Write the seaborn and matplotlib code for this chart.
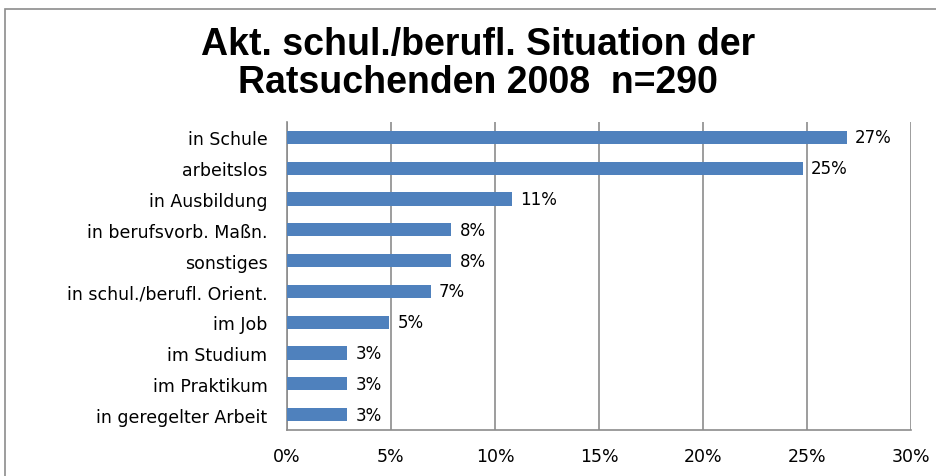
import seaborn as sns
import pandas as pd
from matplotlib import pyplot as plt
from matplotlib.patches import Rectangle
from matplotlib.ticker import FuncFormatter

# data (n=290)
categories = ["in Schule", "arbeitslos", "in Ausbildung", "in berufsvorb. Maßn.",
              "sonstiges", "in schul./berufl. Orient.", "im Job", "im Studium",
              "im Praktikum", "in geregelter Arbeit"]
shares = [26.9, 24.8, 10.8, 7.9, 7.9, 6.9, 4.9, 2.9, 2.9, 2.9]
value_labels = ["27%", "25%", "11%", "8%", "8%", "7%", "5%", "3%", "3%", "3%"]

df = pd.DataFrame({"situation": categories, "share": shares})

sns.set_style("white")
plt.rcParams["font.family"] = ["DejaVu Sans"]
plt.rcParams["text.color"] = "black"

fig = plt.figure(figsize=(9.36, 4.77), dpi=100)
ax = fig.add_axes([287 / 936, 1 - 431 / 477, 624 / 936, 308 / 477])

sns.barplot(data=df, x="share", y="situation", orient="h", color="#4F81BD",
            saturation=1, width=0.43, linewidth=0, ax=ax, zorder=3)

# value labels next to each bar
for patch, lab in zip(ax.patches, value_labels):
    ax.annotate(lab, (patch.get_width(), patch.get_y() + patch.get_height() / 2),
                xytext=(6, 0), textcoords="offset points",
                va="center", ha="left", fontsize=12, color="black")

ax.set_xlim(0, 30)
ax.set_xticks(range(0, 31, 5))
ax.xaxis.set_major_formatter(FuncFormatter(lambda v, p: f"{v:.0f}%"))
ax.set_xlabel("")
ax.set_ylabel("")
ax.grid(axis="x", color="#8c8c8c", linewidth=1.2, zorder=0)
ax.grid(axis="y", visible=False)
ax.tick_params(axis="both", length=0, colors="black")
ax.tick_params(axis="x", pad=12, labelsize=12.5)
ax.tick_params(axis="y", pad=14, labelsize=12.5)
for side in ["top", "right"]:
    ax.spines[side].set_visible(False)
for side in ["left", "bottom"]:
    ax.spines[side].set_color("#8c8c8c")
    ax.spines[side].set_linewidth(1.2)

fig.text(478 / 936, 1 - 45 / 477, "Akt. schul./berufl. Situation der", ha="center",
         va="center", fontsize=27, fontweight="bold", color="black",
         family="Liberation Sans")
fig.text(478 / 936, 1 - 83 / 477, "Ratsuchenden 2008  n=290", ha="center",
         va="center", fontsize=27, fontweight="bold", color="black",
         family="Liberation Sans")

# chart frame (cut off at right and bottom)
fig.patches.append(Rectangle((5 / 936, -0.1), 1.2, 1.1 - 10 / 477,
                             transform=fig.transFigure, fill=False,
                             edgecolor="#8c8c8c", linewidth=1.2))

plt.savefig("out.png", dpi=100)
